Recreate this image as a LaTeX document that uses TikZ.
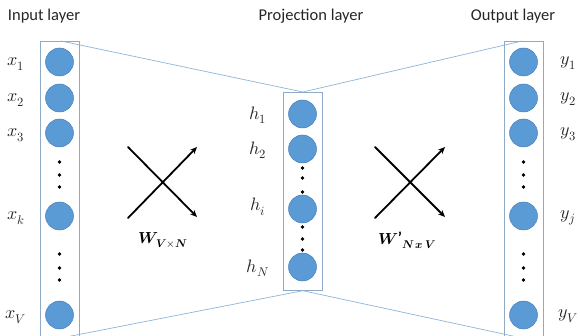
\documentclass[tikz,border=0pt]{standalone}
\usepackage{fontspec}
\usepackage{amsmath,amssymb}
\setmainfont{Carlito}
\usepackage{unicode-math}
\setmathfont{Latin Modern Math}
\usetikzlibrary{arrows.meta}
\definecolor{nodeblue}{HTML}{5B9BD5}
\definecolor{nodeedge}{HTML}{4A80B8}
\definecolor{boxline}{HTML}{8FAAC4}
\definecolor{linkline}{HTML}{8DB4DA}
\begin{document}
\begin{tikzpicture}[x=1pt,y=-1pt,
  neuron/.style={circle,fill=nodeblue,draw=nodeedge,line width=0.5pt,minimum size=28pt,inner sep=0pt},
  layerbox/.style={draw=boxline,line width=0.7pt,minimum width=39pt,inner sep=0pt},
  link/.style={draw=linkline,line width=0.7pt},
  dotmark/.style={circle,fill=black,minimum size=3.6pt,inner sep=0pt},
  title/.style={font=\fontsize{16.5}{19}\selectfont,text=black!85},
  lab/.style={font=\fontsize{18}{20}\selectfont,text=black!85},
  wlab/.style={font=\fontsize{16}{18}\selectfont},
  cross/.style={line width=1.8pt,line cap=round},
  arr/.style={cross,-{Stealth[length=7pt,width=6pt]}}
]
\useasboundingbox (0,0) rectangle (580,336);
% titles
\node[title] (tin) at (44,16) {Input layer};
\node[title] (tproj) at (311,16) {Projection layer};
\node[title] (tout) at (513,16) {Output layer};
% boxes
\node[layerbox,minimum height=300pt,anchor=north west] (inbox) at (40,41) {};
\node[layerbox,minimum height=198pt,anchor=north west] (projbox) at (283,92) {};
\node[layerbox,minimum height=300pt,anchor=north west] (outbox) at (504,41) {};
% link lines
\coordinate (intop) at (61,41);
\coordinate (inbot) at (61,338);
\coordinate (outtop) at (522,41);
\coordinate (outbot) at (522,338);
\draw[link] (intop) -- (projbox.north) -- (outtop);
\draw[link] (inbot) -- (projbox.south) -- (outbot);
% input neurons
\node[neuron] (x1) at (59.5,62) {};
\node[neuron] (x2) at (59.5,98) {};
\node[neuron] (x3) at (59.5,133) {};
\node[dotmark] (xd1) at (59.5,162) {};
\node[dotmark] (xd2) at (59.5,175) {};
\node[dotmark] (xd3) at (59.5,187) {};
\node[neuron] (xk) at (59.5,216) {};
\node[dotmark] (xd4) at (59.5,254) {};
\node[dotmark] (xd5) at (59.5,268) {};
\node[dotmark] (xd6) at (59.5,280) {};
\node[neuron] (xV) at (59.5,315) {};
\node[lab] (lx1) at (16,64) {$x_1$};
\node[lab] (lx2) at (16,100) {$x_2$};
\node[lab] (lx3) at (16,135) {$x_3$};
\node[lab] (lxk) at (16,218) {$x_k$};
\node[lab] (lxV) at (16,317) {$x_V$};
% projection neurons
\node[neuron] (h1) at (302.5,114) {};
\node[neuron] (h2) at (302.5,149) {};
\node[dotmark] (hd1) at (302.5,168) {};
\node[dotmark] (hd2) at (302.5,178) {};
\node[dotmark] (hd3) at (302.5,192) {};
\node[neuron] (hi) at (302.5,209) {};
\node[dotmark] (hd4) at (302.5,227) {};
\node[dotmark] (hd5) at (302.5,239) {};
\node[dotmark] (hd6) at (302.5,250) {};
\node[neuron] (hN) at (302.5,267) {};
\node[lab] (lh1) at (258,115) {$h_1$};
\node[lab] (lh2) at (258,150) {$h_2$};
\node[lab] (lhi) at (258,207) {$h_i$};
\node[lab] (lhN) at (258,268) {$h_N$};
% output neurons
\node[neuron] (y1) at (523.5,62) {};
\node[neuron] (y2) at (523.5,98) {};
\node[neuron] (y3) at (523.5,133) {};
\node[dotmark] (yd1) at (523.5,162) {};
\node[dotmark] (yd2) at (523.5,175) {};
\node[dotmark] (yd3) at (523.5,187) {};
\node[neuron] (yj) at (523.5,216) {};
\node[dotmark] (yd4) at (523.5,254) {};
\node[dotmark] (yd5) at (523.5,268) {};
\node[dotmark] (yd6) at (523.5,280) {};
\node[neuron] (yV) at (523.5,315) {};
\node[lab] (ly1) at (568,63) {$y_1$};
\node[lab] (ly2) at (568,99) {$y_2$};
\node[lab] (ly3) at (568,134) {$y_3$};
\node[lab] (lyj) at (568,218) {$y_j$};
\node[lab] (lyV) at (568,316) {$y_V$};
% crosses
\coordinate (a1) at (128,147);
\coordinate (a2) at (197,217);
\coordinate (a3) at (128,218);
\coordinate (a4) at (197,147);
\draw[arr] (a1) -- (a2);
\draw[arr] (a3) -- (a4);
\coordinate (b1) at (375,147);
\coordinate (b2) at (445,217);
\coordinate (b3) at (375,218);
\coordinate (b4) at (445,147);
\draw[arr] (b1) -- (b2);
\draw[arr] (b3) -- (b4);
% weight labels
\node[wlab] (w1) at (163,240) {$\symbfit{W}_{\symbfit{V\times N}}$};
\node[wlab] (w2) at (407,240) {$\symbfit{W}$\raisebox{1pt}{\bfseries '}$_{\symbfit{N\,x\,V}}$};
\end{tikzpicture}
\end{document}
